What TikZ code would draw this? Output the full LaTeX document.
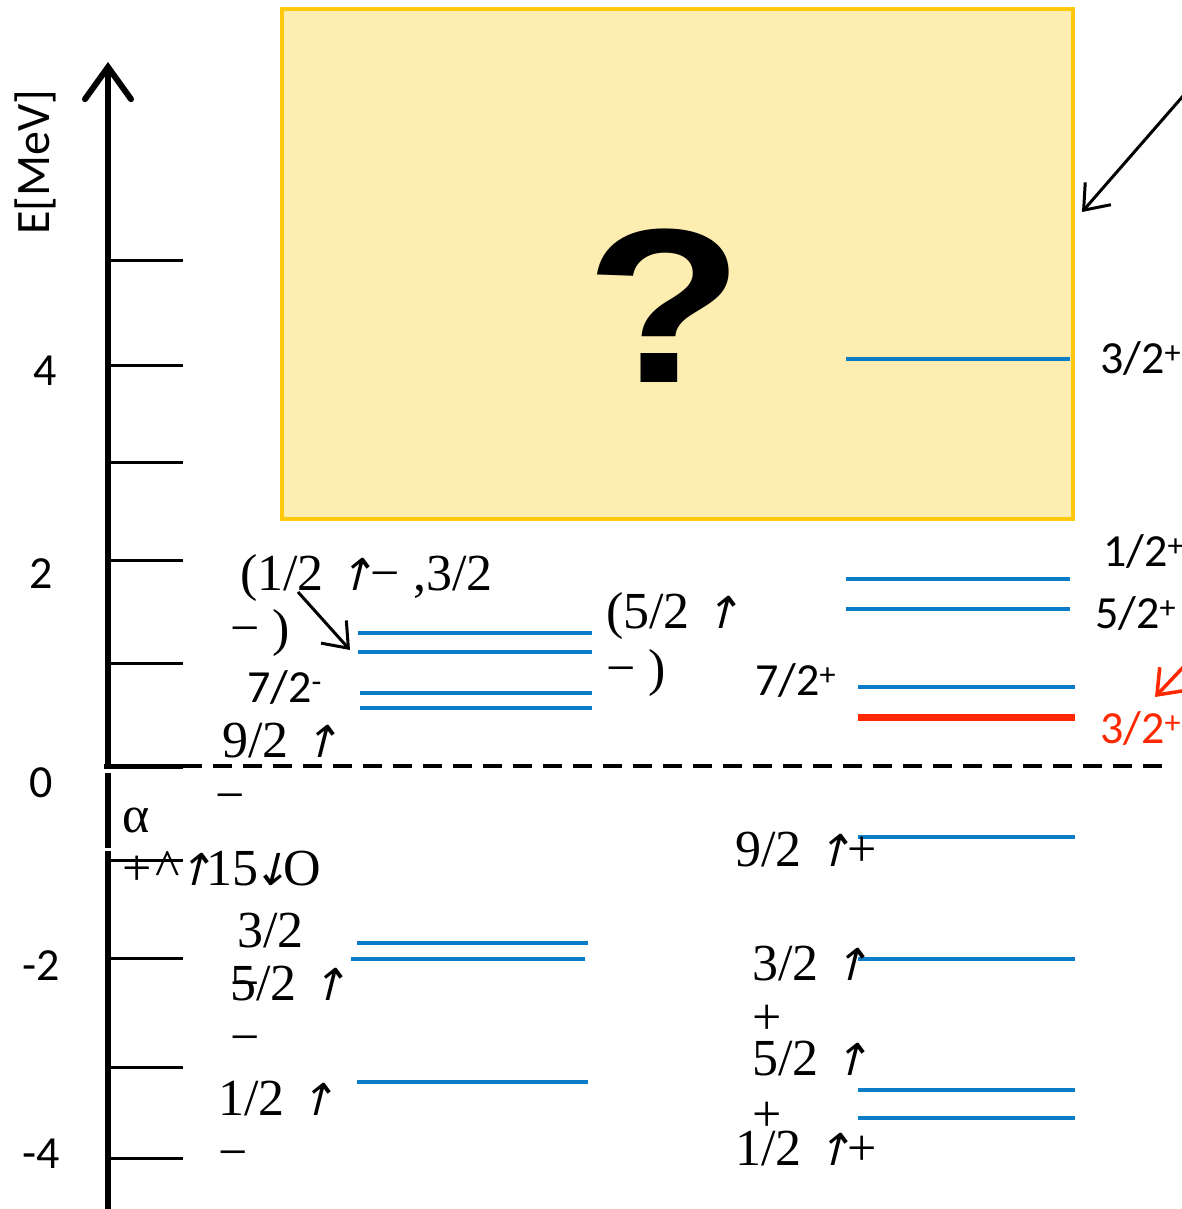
\documentclass[tikz,border=0pt]{standalone}
\usepackage{fontspec}
\setmainfont{Liberation Serif}
\newfontfamily\sansf{Carlito}
\newfontfamily\qfont{Liberation Sans}
\newfontfamily\arrf[FakeSlant=0.25]{DejaVu Sans}
\usetikzlibrary{arrows.meta}
\definecolor{lvlblue}{RGB}{10,124,200}
\definecolor{boxfill}{RGB}{254,237,176}
\definecolor{boxedge}{RGB}{255,200,10}
\definecolor{hotred}{RGB}{255,40,0}
\newcommand\myup{{\arrf\fontsize{44}{52}\selectfont ↑}}
\newcommand\mydn{{\arrf\fontsize{44}{52}\selectfont ↓}}
\begin{document}
\begin{tikzpicture}[x=1pt,y=-1pt,
  lvl/.style={draw=lvlblue,line width=3.5pt},
  tickline/.style={line width=3pt},
  lab/.style={anchor=base west,inner sep=0pt,font=\fontsize{52}{60}\selectfont},
  slab/.style={anchor=base west,inner sep=0pt,font=\sansf\fontsize{46}{56}\selectfont},
  barb/.style={-{Straight Barb[length=22pt,width=34pt]}}]
\useasboundingbox (0,0) rectangle (1182,1209);
% box
\node[draw=boxedge,fill=boxfill,line width=4pt,minimum width=791pt,minimum height=510pt,inner sep=0pt,anchor=north west] (box) at (280,7) {};
\node[font=\qfont\bfseries\fontsize{220}{220}\selectfont,inner sep=0pt,xscale=1.18,anchor=base] (q) at (665,382) {?};
% axis
\coordinate (axb) at (108,1209);
\coordinate (axt) at (108,62);
\draw[line width=6pt] (axb) -- (108,851);
\draw[line width=6pt] (108,848) -- (108,773);
\draw[line width=6pt,-{Straight Barb[length=32pt,width=46pt,line cap=round]}] (108,768) -- (axt);
\foreach \yy in {260,365,462,560,663,1067,1158,958}{\draw[tickline] (110,\yy) -- (183,\yy);}
\draw[tickline] (110,860) -- (183,860);
\draw[line width=5pt] (104,766) -- (183,766);
\draw[line width=3.5pt,dash pattern=on 19pt off 11pt] (183,766) -- (1165,766);
\node[rotate=90,font=\sansf\fontsize{48}{58}\selectfont,inner sep=0pt] (ax) at (35,162) {E[MeV]};
\node[slab] (t4) at (33,385) {4};
\node[slab] (t2) at (29,588) {2};
\node[slab] (t0) at (29,797) {0};
\node[slab] (tm2) at (22,980) {-2};
\node[slab] (tm4) at (22,1168) {-4};
% levels left
\draw[lvl] (358,633) -- (592,633);
\draw[lvl] (358,652) -- (592,652);
\draw[lvl] (360,693) -- (592,693);
\draw[lvl] (360,708) -- (592,708);
\draw[lvl] (357,943) -- (588,943);
\draw[lvl] (351,959) -- (585,959);
\draw[lvl] (357,1082) -- (588,1082);
% levels right
\draw[lvl] (846,359) -- (1070,359);
\draw[lvl] (846,579) -- (1070,579);
\draw[lvl] (846,609) -- (1070,609);
\draw[lvl] (858,687) -- (1075,687);
\draw[draw=hotred,line width=7pt] (858,717) -- (1075,717);
\draw[lvl] (858,837) -- (1075,837);
\draw[lvl] (858,959) -- (1075,959);
\draw[lvl] (858,1090) -- (1075,1090);
\draw[lvl] (858,1118) -- (1075,1118);
% left labels
\node[lab] (l1) at (240,590) {(1/2 \myup\kern-3pt− ,3/2};
\node[lab] (l2) at (230,645) {− )};
\node[slab] (l3) at (247,702) {7/2\textsuperscript{-}};
\node[lab] (l4) at (222,757) {9/2 \myup};
\node[lab] (l5) at (215,812) {−};
\node[lab] (l6) at (122,832) {α};
\node[lab] (l7) at (122,885) {+\kern4pt\textasciicircum\kern-4pt\myup\kern-6pt15\kern-6pt\mydn\kern-6pt O};
\node[lab] (l8) at (237,947) {3/2};
\node[lab] (l9) at (230,1000) {5/2 \myup};
\node[lab] (l9b) at (230,1000) {−};
\node[lab] (l10) at (230,1054) {−};
\node[lab] (l11) at (218,1115) {1/2 \myup};
\node[lab] (l12) at (218,1169) {−};
% middle labels
\node[lab] (m1) at (606,628) {(5/2 \myup};
\node[lab] (m2) at (606,685) {− )};
\node[slab] (m3) at (755,695) {7/2\textsuperscript{+}};
\node[lab] (m4) at (735,866) {9/2 \myup\kern-4pt+};
\node[lab] (m5) at (752,980) {3/2 \myup};
\node[lab] (m6) at (752,1034) {+};
\node[lab] (m7) at (752,1075) {5/2 \myup};
\node[lab] (m8) at (752,1131) {+};
\node[lab] (m9) at (735,1165) {1/2 \myup\kern-4pt+};
% right labels
\node[slab] (r1) at (1100,373) {3/2\textsuperscript{+}};
\node[slab] (r2) at (1103,566) {1/2\textsuperscript{+}};
\node[slab] (r3) at (1095,628) {5/2\textsuperscript{+}};
\node[slab,text=hotred] (r4) at (1100,743) {3/2\textsuperscript{+}};
% arrows
\coordinate (a1s) at (298,592);
\coordinate (a1e) at (350,650);
\draw[line width=3pt,barb] (a1s) -- (a1e);
\coordinate (a2s) at (1190,88);
\coordinate (a2e) at (1082,212);
\draw[line width=3pt,barb] (a2s) -- (a2e);
\coordinate (a3s) at (1190,660);
\coordinate (a3e) at (1155,697);
\draw[draw=hotred,line width=3.5pt,barb] (a3s) -- (a3e);
\end{tikzpicture}
\end{document}
